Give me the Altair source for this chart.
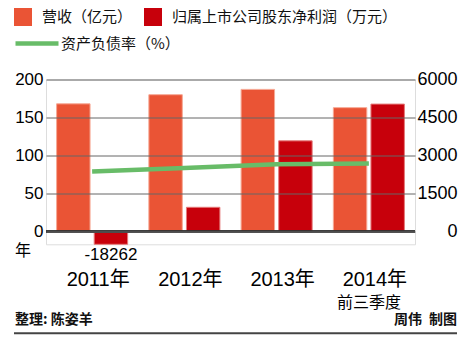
import altair as alt
import pandas as pd

# ---- data ----
YEARS = ["2011", "2012", "2013", "2014"]
SERIES = ["营收（亿元）", "归属上市公司股东净利润（万元）"]
REVENUE = [168, 180, 187, 163]          # 亿元
PROFIT = [-18262, 960, 3580, 5030]      # 万元
LINE_NAME = "资产负债率（%）"
DEBT = [79, 83.5, 88.5, 89.5]           # %
LEFT_TICKS = [0, 50, 100, 150, 200]
RIGHT_TICKS = [0, 1500, 3000, 4500, 6000]
NOTE_2014 = "前三季度"
YEAR_UNIT = "年"
FOOT_LEFT = "整理: 陈姿羊"
FOOT_RIGHT = "周伟\u2002制图"

# ---- style ----
C_REV = "#EA5435"
C_PROF = "#C7000B"
C_LINE = "#68BC68"
NUM_FONT = "Liberation Sans, Noto Sans CJK SC"
CJK_FONT = "Noto Sans CJK SC"

W, H = 369, 164.8
PAD = {"left": 46, "top": 79.5, "right": 470 - 46 - W, "bottom": 337 - 79.5 - H}
L_DOM = [-200 * 500 / 6000, 200]
R_DOM = [-500, 6000]

rev_df = pd.DataFrame({"year": YEARS, "series": SERIES[0], "value": REVENUE})
prof_df = pd.DataFrame({"year": YEARS, "series": SERIES[1], "value": PROFIT})
line_df = pd.DataFrame({"year": YEARS, "metric": LINE_NAME, "debt": DEBT})

X = alt.X(
    "year:N",
    scale=alt.Scale(domain=YEARS, paddingInner=0.23, paddingOuter=0.115),
    axis=alt.Axis(
        title=None, domain=False, ticks=False, tickSize=0, labelAngle=0,
        labelExpr="datum.value + '年'", labelFont=NUM_FONT, labelFontSize=20,
        labelColor="#000", labelBaseline="middle", labelPadding=35, labelOffset=6,
    ),
)
XO = alt.XOffset("series:N", scale=alt.Scale(domain=SERIES, paddingInner=0.11, paddingOuter=0))
COLOR = alt.Color(
    "series:N",
    scale=alt.Scale(domain=SERIES, range=[C_REV, C_PROF]),
    legend=alt.Legend(
        title=None, orient="none", legendX=-32, legendY=-71.5, direction="horizontal",
        symbolType="square", symbolSize=324, symbolStrokeWidth=0, labelFont=CJK_FONT,
        labelFontSize=15, labelColor="#111", labelOffset=10, columnPadding=11,
        labelLimit=400, padding=0,
    ),
)

rev = alt.Chart(rev_df).mark_bar(stroke="#F6A894", strokeWidth=1).encode(
    x=X, xOffset=XO, color=COLOR,
    y=alt.Y(
        "value:Q", scale=alt.Scale(domain=L_DOM, nice=False), title=None,
        axis=alt.Axis(
            orient="left", values=LEFT_TICKS, grid=True, gridColor="#666", gridWidth=1,
            domain=False, ticks=False, tickSize=0, labelPadding=3, labelFont=NUM_FONT,
            labelFontSize=17, labelColor="#000", zindex=1, format="d",
        ),
    ),
)

prof = alt.Chart(prof_df).mark_bar(stroke="#E57A7A", strokeWidth=1).encode(
    x=X, xOffset=XO, color=COLOR,
    y=alt.Y(
        "value:Q", scale=alt.Scale(domain=R_DOM, nice=False, clamp=True), title=None,
        axis=alt.Axis(
            orient="right", values=RIGHT_TICKS, grid=False, domain=False, ticks=False,
            tickSize=0, labelAlign="right", labelPadding=42, labelFont=NUM_FONT,
            labelFontSize=18, labelColor="#000", format="d",
        ),
    ),
)

neg_label = alt.Chart(prof_df).transform_filter("datum.value < 0").transform_calculate(
    label="'' + datum.value"
).mark_text(baseline="middle", dy=11, font=NUM_FONT, fontSize=17, color="#000").encode(
    x=X, xOffset=XO,
    y=alt.Y("value:Q", scale=alt.Scale(domain=R_DOM, nice=False, clamp=True), axis=None),
    text="label:N",
)

zero_rule = alt.Chart(prof_df).mark_rule(color="#333", strokeWidth=2).encode(
    y=alt.YDatum(0, scale=alt.Scale(domain=R_DOM, nice=False), axis=None)
)

line = alt.Chart(line_df).mark_line(strokeWidth=4.5, strokeCap="butt").encode(
    x=X,
    y=alt.Y("debt:Q", scale=alt.Scale(domain=L_DOM, nice=False), axis=None),
    stroke=alt.Stroke(
        "metric:N",
        scale=alt.Scale(domain=[LINE_NAME], range=[C_LINE]),
        legend=alt.Legend(
            title=None, orient="none", legendX=-33, legendY=-60, symbolType="stroke",
            symbolSize=1849, symbolStrokeWidth=4.5, labelFont=CJK_FONT, labelFontSize=15,
            labelColor="#111", labelOffset=0, labelLimit=400, padding=0,
        ),
    ),
)

note = alt.Chart(pd.DataFrame({"year": ["2014"], "t": [NOTE_2014]})).mark_text(
    font=CJK_FONT, fontSize=16, color="#000", baseline="middle"
).encode(x=X, y=alt.value(223), text="t:N")

unit = alt.Chart(pd.DataFrame({"t": [YEAR_UNIT]})).mark_text(
    font=CJK_FONT, fontSize=16, color="#000", baseline="middle"
).encode(x=alt.value(-23), y=alt.value(171.5), text="t:N")

foot_l = alt.Chart(pd.DataFrame({"t": [FOOT_LEFT]})).mark_text(
    font=CJK_FONT, fontSize=14, fontWeight="bold", color="#111", align="left", baseline="middle"
).encode(x=alt.value(-31), y=alt.value(240.5), text="t:N")

foot_r = alt.Chart(pd.DataFrame({"t": [FOOT_RIGHT]})).mark_text(
    font=CJK_FONT, fontSize=14, fontWeight="bold", color="#111", align="right", baseline="middle"
).encode(x=alt.value(411), y=alt.value(240.5), text="t:N")

foot_rule = alt.Chart(pd.DataFrame({"t": [0]})).mark_rule(color="#444", strokeWidth=2).encode(
    x=alt.value(-32), x2=alt.value(411), y=alt.value(253.8)
)

chart = alt.layer(
    rev, prof, neg_label, zero_rule, line, note, unit, foot_l, foot_r, foot_rule
).resolve_scale(y="independent").properties(
    width=W, height=H, autosize=alt.AutoSizeParams(type="none"), padding=PAD
).configure_view(stroke=None).configure(background="white")

chart.save("out.html", embed_options={"renderer": "svg", "actions": False})
